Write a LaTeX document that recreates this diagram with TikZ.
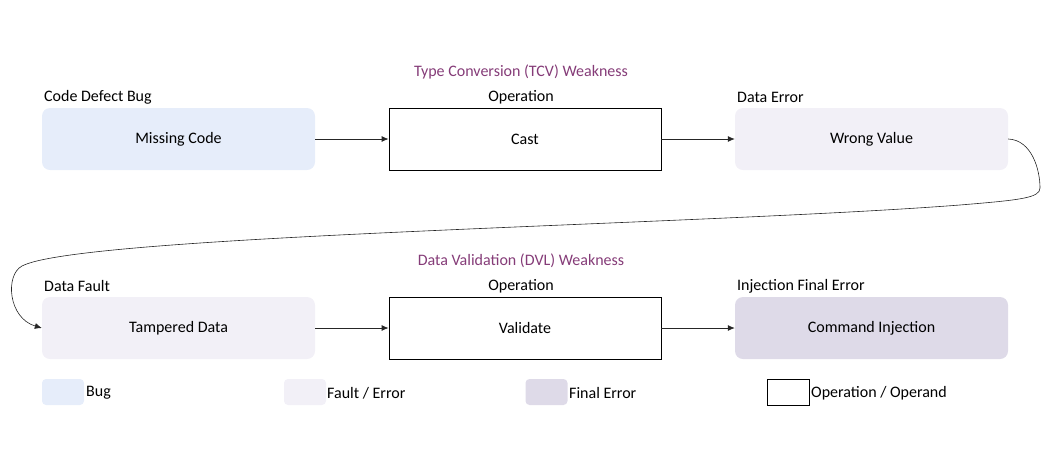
\documentclass[tikz,border=0pt]{standalone}
\usepackage{fontspec}
\setmainfont{Carlito}
\usetikzlibrary{arrows.meta}
\definecolor{bugc}{HTML}{E6EDFA}
\definecolor{faultc}{HTML}{F2F0F7}
\definecolor{finalc}{HTML}{DEDAE8}
\definecolor{titlec}{HTML}{853C78}
\begin{document}
\begin{tikzpicture}[x=1pt,y=-1pt,
  every node/.style={font=\fontsize{16}{19}\selectfont, inner sep=0pt},
  rbox/.style={rounded corners=8pt, minimum width=273pt, minimum height=62pt},
  bugbox/.style={rbox, fill=bugc},
  faultbox/.style={rbox, fill=faultc},
  finalbox/.style={rbox, fill=finalc},
  opbox/.style={draw=black, line width=0.8pt, minimum width=272pt, minimum height=62pt},
  lbl/.style={anchor=west},
  clbl/.style={anchor=center},
  ttl/.style={text=titlec},
  arr/.style={-{Latex[length=7pt,width=6pt]}, line width=0.8pt, draw=black!85},
  legbox/.style={minimum width=42pt, minimum height=26pt},
  legtxt/.style={anchor=west}
]
\path[use as bounding box] (0,0) rectangle (1049,459);

% row 1
\node[ttl] (t1) at (521,72) {Type Conversion (TCV) Weakness};
\node[bugbox] (mc) at (178.5,139) {Missing Code};
\node[opbox] (cast) at (525,139) {Cast};
\node[faultbox] (wv) at (871.5,139) {Wrong Value};
\node[lbl] (l1) at (44,97) {Code Defect Bug};
\node[clbl] (l2) at (521,97) {Operation};
\node[lbl] (l3) at (737,97) {Data Error};

% row 2
\node[ttl] (t2) at (521,261) {Data Validation (DVL) Weakness};
\node[faultbox] (td) at (178.5,328) {Tampered Data};
\node[opbox] (val) at (525,328) {Validate};
\node[finalbox] (ci) at (871.5,328) {Command Injection};
\node[lbl] (l4) at (44,286) {Data Fault};
\node[clbl] (l5) at (521,286) {Operation};
\node[lbl] (l6) at (737,286) {Injection Final Error};

% connectors
\draw[arr] (mc.east) -- (cast.west);
\draw[arr] (cast.east) -- (wv.west);
\draw[arr] (td.east) -- (val.west);
\draw[arr] (val.east) -- (ci.west);
\draw[arr, line width=0.6pt] (wv.east) .. controls (1032,140) and (1040,170) .. (1040,188)
  .. controls (1040,198) and (1020,200) .. (960,205)
  .. controls (700,225) and (80,235) .. (22,266)
  .. controls (5,275) and (8,318) .. (td.west);

% legend
\node[legbox, fill=bugc, rounded corners=4pt] (g1) at (63,392) {};
\node[legtxt] (g1t) at (86,393) {Bug};
\node[legbox, fill=faultc, rounded corners=4pt] (g2) at (305,392) {};
\node[legtxt] (g2t) at (327,393) {Fault / Error};
\node[legbox, fill=finalc, rounded corners=4pt] (g3) at (546.5,392) {};
\node[legtxt] (g3t) at (569,393) {Final Error};
\node[legbox, draw=black, line width=0.8pt] (g4) at (788,392) {};
\node[legtxt] (g4t) at (811,393) {Operation / Operand};
\end{tikzpicture}
\end{document}
